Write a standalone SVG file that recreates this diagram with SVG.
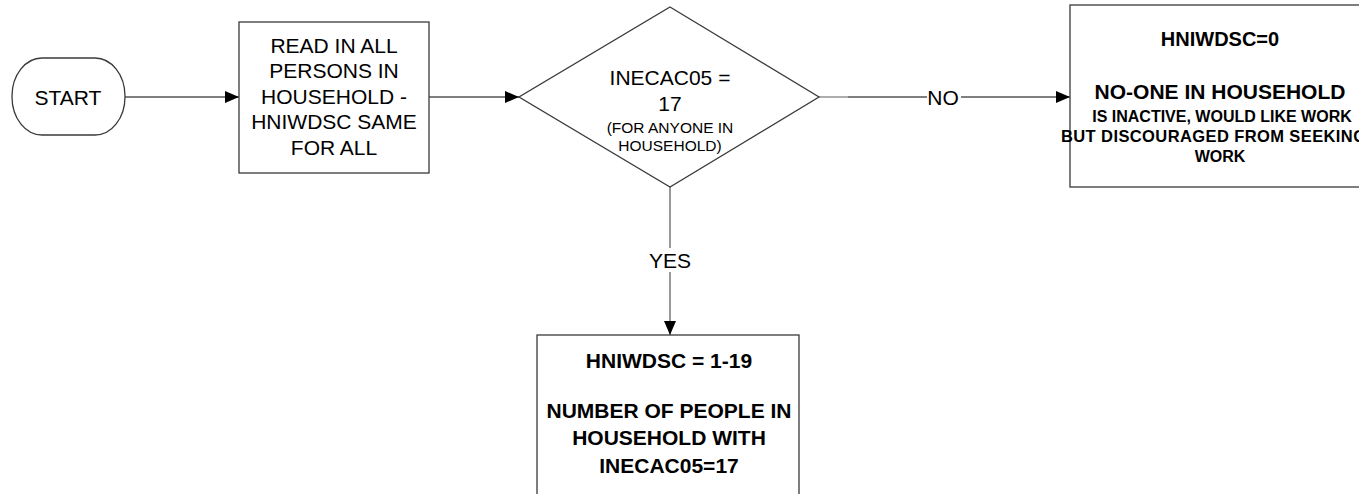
<svg xmlns="http://www.w3.org/2000/svg" width="1359" height="494" viewBox="0 0 1359 494">
<defs>
<style>
.shape{fill:#fff;stroke:#3a3a3a;stroke-width:1.3}
.conn{fill:none;stroke:#000;stroke-width:1.2}
.t{font-family:"Liberation Sans",Arial,sans-serif;fill:#000;text-anchor:middle}
.b{font-weight:bold}
.s{text-anchor:start}
</style>
<marker id="ah" viewBox="0 0 14 12" refX="14" refY="6" markerWidth="14" markerHeight="12" markerUnits="userSpaceOnUse" orient="auto">
<path d="M0,0 L14,6 L0,12 Z" fill="#000"/>
</marker>
</defs>
<rect width="1359" height="494" fill="#fff"/>
<g id="connectors">
<line class="conn" x1="125" y1="97" x2="239" y2="97" marker-end="url(#ah)"/>
<line class="conn" x1="429" y1="97" x2="519" y2="97" marker-end="url(#ah)"/>
<line x1="819" y1="97" x2="848" y2="97" stroke="#777" stroke-width="1.2"/>
<line class="conn" x1="848" y1="97" x2="1070" y2="97" marker-end="url(#ah)"/>
<rect x="927" y="86" width="34" height="22" fill="#fff"/>
<text class="t" x="943" y="104.5" font-size="21">NO</text>
<line x1="670" y1="187" x2="670" y2="335" stroke="#555" stroke-width="1.2" marker-end="url(#ah)"/>
<rect x="648" y="248" width="44" height="24" fill="#fff"/>
<text class="t" x="670" y="267.5" font-size="21">YES</text>
</g>
<g id="start">
<rect class="shape" x="12" y="58" width="113" height="77" rx="30" ry="38"/>
<text class="t" x="68" y="104.5" font-size="21">START</text>
</g>
<g id="read">
<rect class="shape" x="239" y="22" width="190" height="151"/>
<text class="t" font-size="21"><tspan x="334" y="52.5">READ IN ALL</tspan><tspan x="334" y="78">PERSONS IN</tspan><tspan x="334" y="103.5">HOUSEHOLD -</tspan><tspan x="334" y="129">HNIWDSC SAME</tspan><tspan x="334" y="154.5">FOR ALL</tspan></text>
</g>
<g id="decision">
<polygon class="shape" points="670,7 819,97 670,187 519,97"/>
<text class="t" font-size="21"><tspan x="670" y="84.5">INECAC05 =</tspan><tspan x="670" y="110.5">17</tspan></text>
<text class="t" font-size="15.5"><tspan x="670" y="132.5">(FOR ANYONE IN</tspan><tspan x="670" y="150.5">HOUSEHOLD)</tspan></text>
</g>
<g id="no-box">
<rect class="shape" x="1070" y="5" width="310" height="182"/>
<text class="t b" x="1220" y="46" font-size="20">HNIWDSC=0</text>
<text class="t b" x="1220" y="99" font-size="21">NO-ONE IN HOUSEHOLD</text>
<text class="t b" x="1222" y="121.5" font-size="16">IS INACTIVE, WOULD LIKE WORK</text>
<text class="t b s" x="1061" y="142" font-size="16.5" textLength="305" lengthAdjust="spacing">BUT DISCOURAGED FROM SEEKING</text>
<text class="t b" x="1220" y="162" font-size="16">WORK</text>
</g>
<g id="yes-box">
<rect class="shape" x="537" y="335" width="262" height="170"/>
<text class="t b" x="669" y="367.5" font-size="21">HNIWDSC = 1-19</text>
<text class="t b" font-size="21"><tspan x="669" y="417.5">NUMBER OF PEOPLE IN</tspan><tspan x="669" y="445">HOUSEHOLD WITH</tspan><tspan x="669" y="472.5">INECAC05=17</tspan></text>
</g>
</svg>
